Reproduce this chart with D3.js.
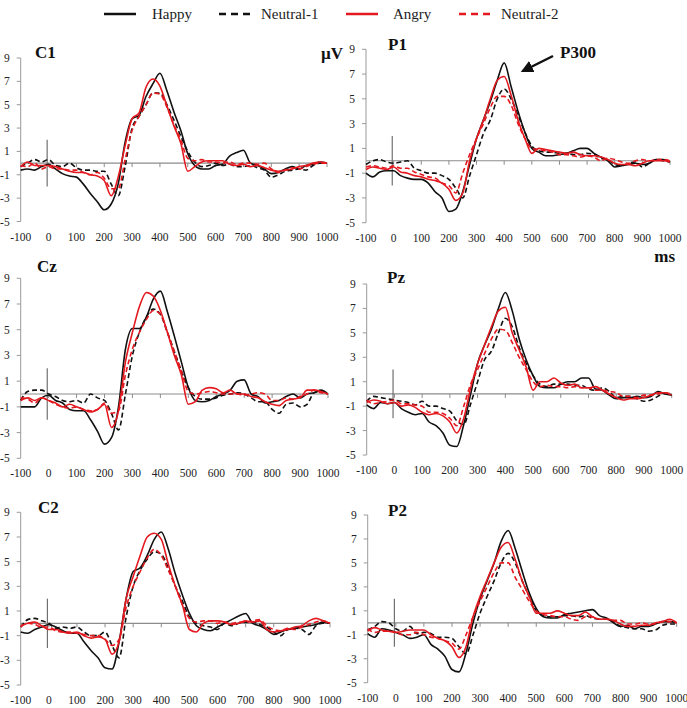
<!DOCTYPE html>
<meta charset="utf-8">
<style>
body { margin: 0; background: #fff; }
svg { font-family: "Liberation Serif", "Times New Roman", serif; }
.tick-label { font-size: 11.5px; fill: #222; }
.panel-title { font-size: 17px; font-weight: bold; fill: #111; }
.legend text { font-size: 15px; fill: #222; }
</style>
<body>
<script src="https://d3js.org/d3.v7.min.js"></script>
<script>

// time points (ms)
var times = [-100,-75,-50,-25,0,25,50,75,100,125,150,175,200,225,250,275,300,325,350,375,400,425,450,475,500,525,550,575,600,625,650,675,700,725,750,775,800,825,850,875,900,925,950,975,1000];

var conditions = ["Happy", "Neutral-1", "Angry", "Neutral-2"];
var yTicks = [9, 7, 5, 3, 1, -1, -3, -5];
var xTicks = [-100, 0, 100, 200, 300, 400, 500, 600, 700, 800, 900, 1000];

// amplitudes (µV), one array per electrode and condition
var c1Happy    = [-0.6,-0.5,-0.6,-0.3,-0.1,-0.5,-0.9,-1.1,-1.2,-1.8,-2.6,-3.3,-4.0,-3.5,-1.8,1.8,3.8,4.1,5.7,6.8,7.7,6.2,4.4,2.8,0.8,-0.2,-0.5,-0.5,-0.2,-0.1,0.6,0.9,1.1,0.0,-0.2,-0.5,-0.9,-0.8,-0.5,-0.3,-0.5,-0.2,-0.1,0.1,0.0];
var c1Neutral1 = [-0.3,0.0,0.3,0.1,0.3,-0.2,-0.3,0.0,-0.4,-0.6,-0.6,-0.7,-0.7,-1.8,-2.8,-0.3,3.0,4.0,5.0,6.0,6.0,5.0,3.7,2.3,1.0,0.1,-0.3,-0.2,0.0,-0.2,-0.1,-0.3,-0.3,-0.2,-0.4,-0.6,-1.2,-1.0,-0.7,-0.6,-0.5,-0.6,-0.2,0.0,0.0];
var c1Angry    = [-0.3,0.1,-0.2,-0.2,-0.2,-0.3,-0.5,-0.7,-0.8,-0.8,-1.0,-1.1,-1.5,-2.8,-1.2,1.5,3.8,4.3,6.5,7.2,6.6,4.9,3.2,1.7,-0.7,-0.3,0.1,0.2,0.2,0.2,-0.1,-0.2,-0.1,-0.3,-0.2,-0.4,-0.6,-0.7,-0.6,-0.5,-0.3,-0.2,0.0,0.1,0.0];
var c1Neutral2 = [-0.2,-0.3,0.0,-0.5,-0.3,-0.5,-0.5,-0.6,-0.6,-0.8,-1.0,-0.8,-1.3,-2.2,-2.2,0.3,2.8,4.0,5.0,6.0,5.9,4.8,3.3,2.0,0.4,0.2,0.3,0.1,0.1,0.0,0.1,-0.1,0.0,0.0,-0.1,0.0,-0.5,-0.8,-0.6,-0.4,-0.5,-0.3,-0.1,0.0,0.0];

var p1Happy    = [-1.0,-1.3,-0.9,-0.8,-0.8,-1.2,-1.4,-1.5,-1.5,-1.8,-2.5,-3.0,-4.1,-3.9,-2.5,-0.3,1.8,3.3,4.8,6.5,7.9,6.0,4.0,2.3,1.0,0.7,0.4,0.4,0.5,0.6,0.8,1.0,1.0,0.6,0.3,0.0,-0.5,-0.4,-0.3,-0.2,-0.3,-0.2,0.1,0.1,-0.1];
var p1Neutral1 = [-0.3,0.0,0.1,-0.1,-0.2,-0.1,0.0,-0.6,-0.8,-1.0,-1.0,-1.2,-1.5,-2.2,-3.0,-1.2,0.5,2.2,3.3,5.0,5.8,5.0,3.7,2.3,1.2,0.8,0.7,0.7,0.6,0.6,0.5,0.5,0.6,0.5,0.2,0.1,-0.3,-0.4,-0.2,-0.1,-0.5,-0.2,0.1,0.0,-0.1];
var p1Angry    = [-0.7,-0.5,-0.6,-0.7,-0.5,-0.9,-1.0,-1.2,-1.3,-1.5,-1.6,-1.8,-2.3,-3.2,-2.6,0.0,1.8,3.3,5.0,6.5,6.8,5.3,3.3,1.8,0.6,1.0,0.9,0.8,0.7,0.6,0.7,0.5,0.4,0.4,0.3,0.1,-0.2,-0.3,-0.3,-0.4,-0.2,0.0,0.0,0.0,-0.1];
var p1Neutral2 = [-0.5,-0.4,-0.5,-0.6,-0.4,-0.6,-0.6,-0.9,-1.1,-1.3,-1.4,-1.8,-2.0,-2.6,-1.0,0.5,1.8,3.0,4.3,5.2,5.2,4.5,3.0,1.8,1.0,0.9,0.8,0.7,0.5,0.5,0.4,0.3,0.4,0.3,0.0,0.2,0.1,-0.1,-0.2,0.0,0.1,0.0,0.1,0.1,0.0];

var czHappy    = [-1.0,-1.0,-1.0,-0.3,-0.1,-0.5,-0.7,-1.2,-1.3,-1.3,-2.0,-2.9,-3.9,-3.4,-1.0,3.5,5.1,5.1,6.0,7.4,8.0,6.4,4.5,2.5,0.5,-0.5,-0.6,-0.5,-0.2,0.0,0.3,1.0,1.1,0.0,-0.2,-0.7,-0.6,-0.5,-0.2,0.0,-0.3,0.0,0.1,0.3,0.0];
var czNeutral1 = [-0.5,0.2,0.3,0.3,0.0,-0.2,-0.5,-0.6,-0.5,-0.7,0.0,-0.3,-0.5,-1.5,-2.8,0.0,3.0,4.8,6.0,6.6,6.2,4.8,3.3,1.8,0.5,-0.2,-0.4,-0.4,-0.3,-0.1,0.0,0.1,0.0,-0.3,-0.6,-0.6,-1.2,-1.5,-0.8,-0.7,-1.0,-0.8,0.1,0.2,0.0];
var czAngry    = [-0.5,-0.3,-0.5,-0.3,-0.5,-0.7,-1.0,-0.8,-1.0,-1.2,-1.4,-1.2,-0.8,-2.6,-1.3,2.5,4.8,6.8,7.9,7.6,6.5,4.8,3.0,1.5,-0.8,-0.6,0.3,0.5,0.4,0.1,0.3,0.0,0.0,-0.2,-0.3,-0.6,-0.8,-0.9,-0.5,-0.4,-0.3,0.3,0.3,0.2,0.0];
var czNeutral2 = [-0.3,-0.4,-0.7,-0.3,-0.5,-0.8,-1.0,-1.1,-1.0,-1.2,-1.3,-1.2,-0.7,-1.5,-1.3,1.5,3.5,4.8,5.8,6.5,6.2,4.8,3.3,1.8,0.2,0.0,0.1,0.2,0.1,0.0,0.0,0.0,-0.1,0.0,0.1,0.0,-0.5,-0.5,-0.3,-0.4,-0.2,0.0,0.3,0.1,0.0];

var pzHappy    = [-0.9,-1.2,-0.7,-0.8,-0.7,-1.2,-1.5,-1.7,-1.6,-2.3,-2.6,-3.2,-4.2,-4.3,-2.5,0.0,2.5,4.0,5.3,7.0,8.3,6.8,4.5,2.8,1.5,0.6,0.5,0.5,0.8,1.0,1.0,1.3,1.3,0.4,0.3,-0.1,-0.4,-0.3,-0.3,-0.2,-0.3,-0.2,0.2,0.0,-0.1];
var pzNeutral1 = [-0.6,-0.2,-0.3,-0.4,-0.5,-0.6,-0.7,-0.9,-0.6,-1.0,-1.0,-1.2,-1.4,-2.2,-2.5,-0.8,1.0,2.8,3.5,5.0,6.2,5.5,3.8,2.5,1.5,0.8,0.6,0.8,0.8,0.8,0.7,0.7,0.4,0.3,0.5,0.2,-0.3,-0.2,-0.2,-0.4,-0.6,-0.5,-0.2,0.1,-0.1];
var pzAngry    = [-0.7,-0.5,-0.6,-0.8,-0.7,-1.0,-0.9,-1.1,-1.5,-1.7,-1.6,-1.8,-2.3,-3.2,-2.0,0.5,2.5,4.0,5.5,6.8,7.1,5.0,3.6,2.2,0.3,1.0,1.0,1.3,0.9,0.7,0.8,0.5,0.5,0.6,0.3,0.0,-0.3,-0.5,-0.4,-0.4,-0.3,-0.1,0.1,0.1,-0.1];
var pzNeutral2 = [-0.5,-0.8,-0.7,-0.6,-0.5,-0.8,-0.8,-0.9,-1.0,-1.5,-1.5,-1.6,-2.0,-2.6,-1.0,0.8,2.0,3.3,4.5,5.3,5.2,4.2,3.0,2.0,1.0,0.6,0.7,0.6,0.6,0.5,0.6,0.5,0.5,0.3,0.3,0.2,0.1,-0.2,-0.2,-0.3,-0.1,-0.1,0.0,0.1,0.0];

var c2Happy    = [-0.7,-0.8,-0.5,-0.3,-0.1,-0.3,-0.6,-0.8,-0.8,-1.5,-2.2,-2.8,-3.6,-3.7,-1.5,2.0,4.2,4.5,5.5,6.8,7.4,6.0,4.0,2.3,0.8,-0.2,-0.5,-0.6,-0.3,0.0,0.3,0.6,0.8,0.0,-0.2,-0.5,-0.9,-0.7,-0.5,-0.4,-0.3,-0.2,-0.1,0.1,0.0];
var c2Neutral1 = [-0.3,0.3,0.4,0.2,0.0,-0.4,-0.3,-0.4,-0.3,-0.7,-1.0,-1.0,-0.7,-1.8,-2.8,0.5,3.0,4.3,5.2,5.8,5.6,4.5,3.0,1.8,0.5,0.0,-0.2,-0.3,-0.5,0.0,-0.2,0.0,0.1,0.1,-0.1,-0.3,-0.7,-1.0,-0.5,-0.4,-0.5,-0.9,-0.2,0.0,0.0];
var c2Angry    = [-0.2,0.0,0.1,-0.2,-0.5,-0.5,-0.7,-0.8,-0.7,-1.0,-1.2,-1.1,-1.3,-2.5,-1.5,2.0,3.8,5.5,7.0,7.3,6.8,4.8,3.0,1.5,-0.5,-0.7,0.0,0.2,0.2,0.1,-0.1,0.0,0.2,0.1,0.2,-0.5,-0.7,-0.6,-0.5,-0.3,-0.2,0.2,0.4,0.2,0.0];
var c2Neutral2 = [-0.3,0.0,-0.1,-0.3,-0.3,-0.6,-0.7,-0.7,-0.8,-0.9,-1.0,-1.0,-1.3,-1.8,-1.3,1.3,3.0,4.2,5.3,6.0,5.5,4.3,3.0,1.5,0.4,0.1,0.2,0.2,0.0,0.1,0.0,0.1,0.1,0.2,0.3,-0.2,-0.5,-0.6,-0.4,-0.5,-0.3,-0.1,0.1,0.2,0.0];

var p2Happy    = [-0.9,-1.2,-0.5,-0.6,-0.8,-1.0,-1.3,-1.2,-1.0,-1.8,-2.2,-2.8,-3.9,-4.1,-2.5,0.0,2.0,3.5,5.0,6.8,7.7,6.2,4.3,2.5,1.2,0.5,0.4,0.4,0.7,0.8,0.9,1.0,1.1,0.6,0.4,0.0,-0.3,-0.2,-0.5,-0.3,-0.3,-0.1,0.1,0.1,0.0];
var p2Neutral1 = [-0.6,-0.3,0.1,0.0,-0.5,-0.7,-0.3,-0.9,-0.8,-0.9,-1.2,-1.2,-1.3,-2.0,-2.6,-1.0,0.8,2.2,3.5,5.0,5.8,5.0,3.5,2.2,1.0,0.6,0.5,0.5,0.6,0.6,0.5,0.6,0.4,0.3,0.3,0.1,-0.3,-0.4,-0.5,-0.5,-0.7,-0.6,-0.2,-0.1,-0.1];
var p2Angry    = [-0.7,-0.4,-0.6,-0.7,-0.8,-0.7,-0.6,-0.6,-0.6,-1.0,-1.3,-1.5,-2.0,-2.9,-2.0,0.5,2.2,3.6,5.0,6.3,6.7,5.3,3.5,2.2,0.8,0.8,0.8,1.0,0.8,0.6,0.6,0.9,0.5,0.3,0.3,0.2,-0.1,-0.3,-0.3,-0.2,-0.2,0.0,0.1,0.3,0.0];
var p2Neutral2 = [-0.5,-0.8,-0.7,-0.7,-0.8,-1.0,-1.0,-0.8,-1.0,-1.2,-1.3,-1.5,-1.7,-2.2,-1.0,0.5,1.8,3.0,4.2,5.0,5.0,3.8,2.8,1.8,1.0,0.7,0.6,0.5,0.5,0.3,0.2,0.5,0.5,0.3,0.3,0.2,0.2,-0.1,-0.1,0.0,-0.1,-0.1,0.1,0.1,0.0];

var styles = {
  "Happy":     {color: "#111", dash: null},
  "Neutral-1": {color: "#111", dash: "5,3"},
  "Angry":     {color: "#e3191f", dash: null},
  "Neutral-2": {color: "#e3191f", dash: "5,3"}
};

// panel placement (pixels)
var panels = [
  {name: "C1", series: [c1Happy, c1Neutral1, c1Angry, c1Neutral2], x0: 20.7, x1: 327, top: 58, bot: 221.5, tx: 35, ty: 58},
  {name: "P1", series: [p1Happy, p1Neutral1, p1Angry, p1Neutral2], x0: 366, x1: 670, top: 49.3, bot: 222.7, tx: 388, ty: 50},
  {name: "Cz", series: [czHappy, czNeutral1, czAngry, czNeutral2], x0: 20.7, x1: 328, top: 278.3, bot: 458.3, tx: 37, ty: 272},
  {name: "Pz", series: [pzHappy, pzNeutral1, pzAngry, pzNeutral2], x0: 366.7, x1: 671.7, top: 284, bot: 455, tx: 387, ty: 283},
  {name: "C2", series: [c2Happy, c2Neutral1, c2Angry, c2Neutral2], x0: 20.7, x1: 330, top: 512.3, bot: 685, tx: 38, ty: 513},
  {name: "P2", series: [p2Happy, p2Neutral1, p2Angry, p2Neutral2], x0: 367.7, x1: 676.7, top: 515, bot: 682.7, tx: 388, ty: 516}
];

var svg = d3.select("body").append("svg")
    .attr("width", 687)
    .attr("height", 708);

panels.forEach(function(p) {
  var x = d3.scaleLinear().domain([-100, 1000]).range([p.x0, p.x1]);
  var y = d3.scaleLinear().domain([-5, 9]).range([p.bot, p.top]);
  var g = svg.append("g");

  // y axis
  g.append("line")
      .attr("x1", p.x0).attr("x2", p.x0)
      .attr("y1", y(9)).attr("y2", y(-5))
      .attr("stroke", "#9a9a9a");
  g.selectAll(".ytick")
      .data(yTicks)
    .enter().append("line")
      .attr("x1", p.x0 - 4).attr("x2", p.x0)
      .attr("y1", function(d) { return y(d); })
      .attr("y2", function(d) { return y(d); })
      .attr("stroke", "#9a9a9a");
  g.selectAll(".ylab")
      .data(yTicks)
    .enter().append("text")
      .attr("class", "tick-label")
      .attr("x", p.x0 - 11)
      .attr("y", function(d) { return y(d); })
      .attr("dy", "0.35em")
      .attr("text-anchor", "end")
      .text(function(d) { return d; });

  // zero line with ticks
  g.append("line")
      .attr("x1", x(-100)).attr("x2", x(1000))
      .attr("y1", y(0)).attr("y2", y(0))
      .attr("stroke", "#8c8c8c")
      .attr("stroke-width", 1.2);
  g.selectAll(".xtick")
      .data(xTicks.slice(1))
    .enter().append("line")
      .attr("x1", function(d) { return x(d); })
      .attr("x2", function(d) { return x(d); })
      .attr("y1", y(0)).attr("y2", y(0) + 4)
      .attr("stroke", "#8c8c8c");
  g.selectAll(".xlab")
      .data(xTicks)
    .enter().append("text")
      .attr("class", "tick-label")
      .attr("x", function(d) { return x(d); })
      .attr("y", p.bot + 19)
      .attr("text-anchor", "middle")
      .text(function(d) { return d; });

  // stimulus onset marker
  g.append("line")
      .attr("x1", x(-5)).attr("x2", x(-5))
      .attr("y1", y(2)).attr("y2", y(-2))
      .attr("stroke", "#707070")
      .attr("stroke-width", 1.2);

  var line = d3.line()
      .x(function(d, i) { return x(times[i]); })
      .y(function(d) { return y(d); })
      .curve(d3.curveMonotoneX);

  conditions.forEach(function(c, k) {
    g.append("path")
        .datum(p.series[k])
        .attr("fill", "none")
        .attr("stroke", styles[c].color)
        .attr("stroke-width", 1.6)
        .attr("stroke-dasharray", styles[c].dash)
        .attr("d", line);
  });

  g.append("text")
      .attr("class", "panel-title")
      .attr("x", p.tx).attr("y", p.ty)
      .text(p.name);
});

// unit labels
svg.append("text").attr("class", "panel-title")
    .attr("x", 343).attr("y", 59).attr("text-anchor", "end").text("µV");
svg.append("text").attr("class", "panel-title")
    .attr("x", 675).attr("y", 262).attr("text-anchor", "end").text("ms");

// P300 annotation
svg.append("defs").append("marker")
    .attr("id", "head")
    .attr("viewBox", "0 0 10 10")
    .attr("refX", 8).attr("refY", 5)
    .attr("markerWidth", 5).attr("markerHeight", 5)
    .attr("orient", "auto")
  .append("path")
    .attr("d", "M0,0L10,5L0,10z")
    .attr("fill", "#111");
svg.append("line")
    .attr("x1", 553).attr("y1", 56)
    .attr("x2", 523).attr("y2", 71)
    .attr("stroke", "#111")
    .attr("stroke-width", 2.5)
    .attr("marker-end", "url(#head)");
svg.append("text").attr("class", "panel-title")
    .attr("x", 560).attr("y", 58)
    .style("font-size", "17px")
    .text("P300");

// legend
var legendX = [104, 219, 346, 459];
var legend = svg.append("g").attr("class", "legend")
  .selectAll("g")
    .data(conditions)
  .enter().append("g")
    .attr("transform", function(d, i) { return "translate(" + legendX[i] + ",14)"; });

legend.append("line")
    .attr("x1", 0).attr("x2", 32)
    .attr("stroke", function(d) { return styles[d].color; })
    .attr("stroke-width", 2.5)
    .attr("stroke-dasharray", function(d) { return styles[d].dash ? "7,5" : null; });

legend.append("text")
    .attr("x", function(d, i) { return i == 0 ? 48 : i == 2 ? 47 : 42; })
    .attr("y", 5)
    .text(function(d) { return d; });

</script>
</body>
